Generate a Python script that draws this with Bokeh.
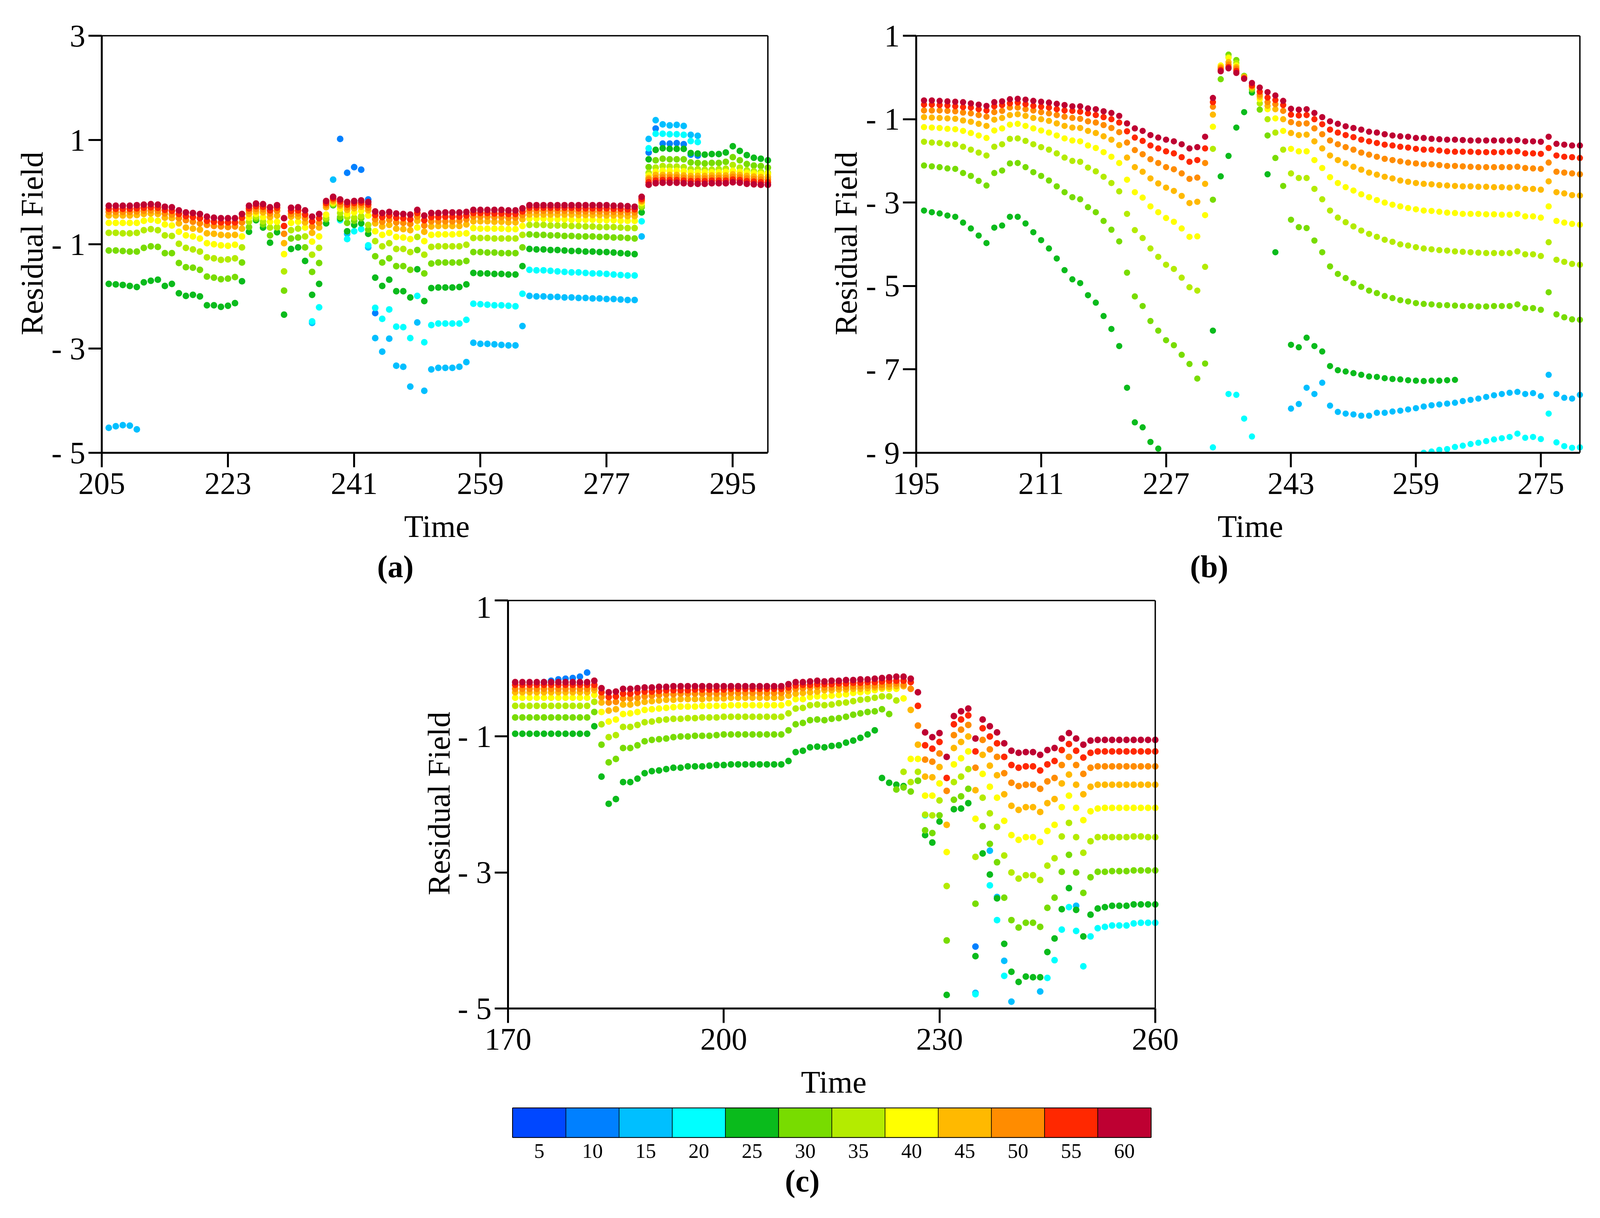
from bokeh.plotting import figure
from bokeh.layouts import column, row
from bokeh.models import Spacer, FixedTicker, Title, FactorRange, Range1d
from bokeh.embed import file_html
from bokeh.resources import INLINE

LEVELS = ["5", "10", "15", "20", "25", "30", "35", "40", "45", "50", "55", "60"]
COLORS = ["#0047FF", "#0080FF", "#00BFFF", "#00FFFF", "#0ABB1C", "#78DC00",
          "#B4EB00", "#FFFF00", "#FFB900", "#FF8C00", "#FF2800", "#BE0032"]

# ---------------- panel (a): time 206..300
a_t = list(range(206, 301))
a60 = [-0.26,-0.26,-0.26,-0.26,-0.25, -0.24,-0.23,-0.24,-0.28,-0.29, -0.35,-0.39,-0.40,-0.42,-0.47,
       -0.49,-0.50,-0.50,-0.50,-0.42, -0.26,-0.22,-0.23,-0.29,-0.25, -0.50,-0.30,-0.29,-0.35,-0.47,
       -0.42,-0.17,-0.09,-0.14,-0.19, -0.17,-0.16,-0.19,-0.37,-0.40, -0.38,-0.41,-0.42,-0.43,-0.34,
       -0.45,-0.40,-0.40,-0.39,-0.39, -0.39,-0.38,-0.34,-0.34,-0.34, -0.34,-0.34,-0.35,-0.35,-0.31,
       -0.25,-0.25,-0.25,-0.25,-0.25, -0.25,-0.25,-0.25,-0.25,-0.25, -0.25,-0.25,-0.26,-0.26,-0.27,
       -0.28,-0.09,0.14,0.17,0.18, 0.18,0.18,0.17,0.16,0.16, 0.16,0.17,0.17,0.17,0.19, 0.18,0.16,0.15,0.14,0.14]
a55 = [-0.32,-0.32,-0.32,-0.32,-0.31, -0.30,-0.29,-0.30,-0.34,-0.36, -0.42,-0.46,-0.48,-0.50,-0.55,
       -0.57,-0.58,-0.58,-0.58,-0.49, -0.31,-0.27,-0.28,-0.35,-0.30, -0.65,-0.36,-0.35,-0.43,-0.56,
       -0.50,-0.21,-0.12,-0.18,-0.24, -0.21,-0.20,-0.24,-0.44,-0.48, -0.45,-0.49,-0.50,-0.52,-0.40,
       -0.54,-0.48,-0.48,-0.47,-0.47, -0.47,-0.45,-0.40,-0.40,-0.40, -0.41,-0.41,-0.42,-0.42,-0.37,
       -0.30,-0.30,-0.30,-0.30,-0.30, -0.30,-0.30,-0.31,-0.31,-0.31, -0.31,-0.31,-0.32,-0.32,-0.33,
       -0.33,-0.13,0.19,0.22,0.23, 0.23,0.23,0.22,0.21,0.21, 0.21,0.22,0.22,0.22,0.24, 0.23,0.21,0.20,0.19,0.19]
a50 = [-0.38,-0.38,-0.38,-0.38,-0.37, -0.36,-0.35,-0.36,-0.41,-0.43, -0.50,-0.54,-0.57,-0.60,-0.63,
       -0.65,-0.66,-0.67,-0.66,-0.58, -0.36,-0.32,-0.33,-0.41,-0.36, -0.80,-0.42,-0.41,-0.50,-0.66,
       -0.59,-0.25,-0.15,-0.23,-0.29, -0.26,-0.24,-0.30,-0.52,-0.57, -0.53,-0.58,-0.59,-0.61,-0.47,
       -0.64,-0.56,-0.56,-0.56,-0.56, -0.55,-0.52,-0.47,-0.47,-0.47, -0.48,-0.48,-0.49,-0.49,-0.44,
       -0.36,-0.36,-0.36,-0.36,-0.36, -0.36,-0.36,-0.37,-0.37,-0.37, -0.37,-0.38,-0.38,-0.38,-0.39,
       -0.39,-0.16,0.24,0.27,0.28, 0.28,0.28,0.27,0.26,0.26, 0.26,0.27,0.27,0.27,0.29, 0.28,0.26,0.25,0.24,0.24]
a45 = [-0.45,-0.45,-0.45,-0.45,-0.44, -0.42,-0.41,-0.42,-0.49,-0.50, -0.60,-0.68,-0.70,-0.72,-0.79,
       -0.80,-0.82,-0.83,-0.82,-0.70, -0.42,-0.37,-0.39,-0.48,-0.45, -0.98,-0.47,-0.47,-0.58,-0.78,
       -0.68,-0.29,-0.18,-0.26,-0.34, -0.31,-0.28,-0.35,-0.60,-0.66, -0.63,-0.70,-0.71,-0.73,-0.55,
       -0.76,-0.66,-0.65,-0.65,-0.65, -0.65,-0.62,-0.56,-0.56,-0.56, -0.57,-0.57,-0.58,-0.58,-0.52,
       -0.43,-0.43,-0.43,-0.43,-0.43, -0.43,-0.43,-0.44,-0.44,-0.44, -0.44,-0.45,-0.45,-0.45,-0.46,
       -0.46,-0.18,0.27,0.33,0.33, 0.33,0.33,0.32,0.31,0.31, 0.31,0.32,0.32,0.32,0.34, 0.33,0.31,0.30,0.29,0.29]
a40 = [-0.59,-0.59,-0.59,-0.59,-0.59, -0.55,-0.53,-0.55,-0.62,-0.64, -0.76,-0.83,-0.85,-0.89,-0.98,
       -1.00,-1.02,-1.03,-1.01,-0.85, -0.49,-0.42,-0.48,-0.57,-0.57, -1.19,-0.59,-0.57,-0.68,-0.95,
       -0.85,-0.43,-0.20,-0.32,-0.42, -0.39,-0.36,-0.45,-0.75,-0.82, -0.78,-0.86,-0.87,-0.90,-0.68,
       -0.94,-0.82,-0.81,-0.81,-0.81, -0.80,-0.79,-0.69,-0.70,-0.70, -0.70,-0.70,-0.71,-0.71,-0.65,
       -0.51,-0.51,-0.51,-0.52,-0.52, -0.52,-0.53,-0.53,-0.53,-0.53, -0.54,-0.54,-0.54,-0.55,-0.55,
       -0.55,-0.21,0.32,0.39,0.41, 0.41,0.41,0.40,0.38,0.38, 0.38,0.38,0.38,0.39,0.41, 0.39,0.37,0.36,0.35,0.35]
a35 = [-0.78,-0.78,-0.79,-0.79,-0.78, -0.73,-0.71,-0.73,-0.83,-0.84, -0.99,-1.07,-1.10,-1.14,-1.25,
       -1.27,-1.30,-1.29,-1.27,-1.06, -0.57,-0.47,-0.56,-0.68,-0.67, -1.52,-0.73,-0.70,-0.85,-1.20,
       -1.07,-0.49,-0.22,-0.40,-0.48, -0.49,-0.46,-0.63,-0.94,-1.04, -0.98,-1.09,-1.09,-1.15,-0.86,
       -1.20,-1.05,-1.04,-1.04,-1.04, -1.04,-1.01,-0.88,-0.88,-0.88, -0.89,-0.89,-0.89,-0.89,-0.82,
       -0.63,-0.63,-0.63,-0.64,-0.64, -0.64,-0.65,-0.65,-0.66,-0.66, -0.67,-0.67,-0.67,-0.68,-0.69,
       -0.69,-0.26,0.37,0.47,0.50, 0.49,0.49,0.48,0.44,0.44, 0.43,0.43,0.44,0.45,0.52, 0.47,0.42,0.40,0.39,0.37]
a30 = [-1.12,-1.12,-1.13,-1.14,-1.14, -1.07,-1.04,-1.05,-1.17,-1.17, -1.36,-1.44,-1.45,-1.49,-1.62,
       -1.64,-1.67,-1.66,-1.63,-1.35, -0.67,-0.51,-0.62,-0.83,-0.68, -1.89,-0.89,-0.87,-1.06,-1.53,
       -1.36,-0.52,-0.24,-0.48,-0.59, -0.55,-0.50,-0.72,-1.23,-1.35, -1.27,-1.42,-1.42,-1.49,-1.11,
       -1.56,-1.37,-1.35,-1.35,-1.35, -1.35,-1.32,-1.15,-1.15,-1.16, -1.16,-1.17,-1.17,-1.17,-1.06,
       -0.81,-0.82,-0.82,-0.83,-0.83, -0.84,-0.84,-0.85,-0.85,-0.85, -0.86,-0.86,-0.87,-0.87,-0.88,
       -0.89,-0.29,0.48,0.61,0.64, 0.63,0.63,0.63,0.57,0.56, 0.55,0.56,0.56,0.58,0.67, 0.61,0.54,0.51,0.50,0.47]
a25 = [-1.76,-1.77,-1.78,-1.80,-1.82, -1.73,-1.70,-1.68,-1.80,-1.76, -1.94,-1.99,-1.97,-2.00,-2.17,
       -2.17,-2.20,-2.18,-2.13,-1.71, -0.76,-0.54,-0.68,-0.97,-0.77, -2.35,-1.09,-1.06,-1.32,-1.97,
       -1.76,-0.60,-0.25,-0.51,-0.75, -0.63,-0.60,-0.80,-1.64,-1.80, -1.68,-1.90,-1.90,-2.02,-1.48,
       -2.09,-1.84,-1.83,-1.83,-1.83, -1.82,-1.77,-1.55,-1.56,-1.56, -1.57,-1.57,-1.58,-1.58,-1.42,
       -1.09,-1.10,-1.10,-1.11,-1.11, -1.12,-1.13,-1.13,-1.14,-1.14, -1.15,-1.15,-1.16,-1.17,-1.18,
       -1.19,-0.39,0.63,0.81,0.84, 0.83,0.83,0.83,0.75,0.74, 0.72,0.73,0.73,0.76,0.88, 0.79,0.71,0.66,0.64,0.61]
a20_t = [235,236,239,240,241,242,243,244,245,246,247,248,249,250,251,252,253,254,255,256,257,
         258,259,260,261,262,263,264,265,266,267,268,269,270,271,272,273,274,275,276,277,278,279,280,281,
         282,283,284,285,286,287,288,289,290]
a20 = [-2.48,-2.21,-0.54,-0.90,-0.75,-0.71,-1.02,-2.22,-2.43,-2.25,-2.58,-2.59,-2.80,-1.99,-2.88,-2.55,-2.52,-2.52,-2.52,-2.52,-2.45,
       -2.14,-2.15,-2.16,-2.17,-2.17,-2.18,-2.19,-1.95,-1.49,-1.50,-1.50,-1.51,-1.52,-1.53,-1.54,-1.54,-1.55,-1.56,-1.56,-1.57,-1.58,-1.59,-1.60,-1.60,
       -0.56,0.84,1.12,1.12,1.11,1.11,1.10,0.98,0.96]
a15_t = [206,207,208,209,210,235,238,240,243,244,245,246,247,248,249,250,251,252,253,254,255,256,257,
         258,259,260,261,262,263,264,265,266,267,268,269,270,271,272,273,274,275,276,277,278,279,280,281,
         282,283,284,285,286,287,288,289,290]
a15 = [-4.52,-4.49,-4.47,-4.48,-4.55,-2.51,0.24,-0.80,-1.06,-2.80,-3.06,-2.81,-3.33,-3.35,-3.73,-2.50,-3.81,-3.40,-3.37,-3.37,-3.37,-3.35,-3.26,
       -2.89,-2.91,-2.91,-2.92,-2.93,-2.94,-2.94,-2.57,-1.99,-2.00,-2.00,-2.01,-2.01,-2.02,-2.02,-2.03,-2.03,-2.04,-2.04,-2.05,-2.05,-2.06,-2.07,-2.07,
       -0.85,1.02,1.38,1.30,1.28,1.29,1.27,1.10,1.08]
a10_t = [239,240,241,242,243,244,283,284,285,286,287,288,289,290]
a10 = [1.02,0.37,0.48,0.43,-0.14,-2.32,0.76,1.22,0.93,0.93,0.94,0.92,0.72,0.70]

# ---------------- panel (b): time 196..280
b_t = list(range(196, 281))
b60 = [-0.55,-0.55,-0.56,-0.57,-0.58, -0.59,-0.62,-0.65,-0.68,-0.59, -0.57,-0.52,-0.51,-0.53,-0.56,
       -0.58,-0.60,-0.63,-0.66,-0.69, -0.69,-0.74,-0.76,-0.81,-0.85, -0.92,-1.10,-1.22,-1.28,-1.38,
       -1.44,-1.49,-1.53,-1.60,-1.70, -1.67,-1.42,-0.49,0.15,0.22, 0.11,-0.03,-0.13,-0.24,-0.35,
       -0.43,-0.56,-0.75,-0.77,-0.76, -0.85,-0.95,-1.05,-1.11,-1.17, -1.21,-1.25,-1.30,-1.32,-1.36,
       -1.39,-1.41,-1.42,-1.45,-1.45, -1.47,-1.48,-1.49,-1.49,-1.50, -1.51,-1.51,-1.51,-1.51,-1.51,
       -1.51,-1.50,-1.53,-1.53,-1.54, -1.42,-1.59,-1.61,-1.63,-1.63]
b55 = [-0.65,-0.65,-0.66,-0.67,-0.69, -0.71,-0.72,-0.76,-0.79,-0.69, -0.66,-0.62,-0.60,-0.64,-0.68,
       -0.70,-0.72,-0.76,-0.79,-0.80, -0.82,-0.86,-0.90,-0.95,-1.00, -1.08,-1.29,-1.44,-1.52,-1.63,
       -1.70,-1.77,-1.82,-1.91,-2.02, -1.98,-1.70,-0.59,0.18,0.25, 0.16,-0.02,-0.19,-0.34,-0.48,
       -0.54,-0.66,-0.89,-0.91,-0.90, -1.00,-1.12,-1.25,-1.32,-1.38, -1.43,-1.49,-1.53,-1.57,-1.61,
       -1.63,-1.66,-1.68,-1.71,-1.73, -1.73,-1.75,-1.77,-1.78,-1.78, -1.78,-1.79,-1.79,-1.79,-1.79,
       -1.78,-1.77,-1.82,-1.82,-1.83, -1.69,-1.87,-1.90,-1.91,-1.93]
b50 = [-0.79,-0.79,-0.79,-0.80,-0.81, -0.84,-0.86,-0.90,-0.94,-0.83, -0.80,-0.72,-0.72,-0.76,-0.79,
       -0.83,-0.86,-0.90,-0.94,-0.97, -0.99,-1.05,-1.08,-1.14,-1.21, -1.31,-1.56,-1.74,-1.84,-1.96,
       -2.05,-2.15,-2.20,-2.30,-2.43, -2.40,-2.05,-0.70,0.22,0.31, 0.21,0.00,-0.21,-0.41,-0.59,
       -0.64,-0.80,-1.07,-1.11,-1.10, -1.22,-1.36,-1.51,-1.60,-1.67, -1.73,-1.80,-1.85,-1.90,-1.95,
       -1.98,-2.01,-2.04,-2.06,-2.08, -2.08,-2.10,-2.12,-2.12,-2.13, -2.14,-2.15,-2.15,-2.15,-2.15,
       -2.15,-2.14,-2.17,-2.18,-2.19, -2.04,-2.26,-2.28,-2.30,-2.32]
b45 = [-0.95,-0.96,-0.97,-0.98,-0.99, -1.03,-1.06,-1.11,-1.16,-1.01, -0.97,-0.90,-0.88,-0.92,-0.97,
       -1.00,-1.04,-1.10,-1.16,-1.20, -1.21,-1.28,-1.33,-1.41,-1.49, -1.62,-1.92,-2.15,-2.26,-2.42,
       -2.54,-2.64,-2.72,-2.84,-3.01, -2.98,-2.55,-0.89,0.25,0.37, 0.25,0.02,-0.23,-0.46,-0.68,
       -0.76,-1.00,-1.33,-1.38,-1.37, -1.53,-1.70,-1.87,-1.98,-2.06, -2.14,-2.21,-2.28,-2.33,-2.38,
       -2.42,-2.47,-2.50,-2.53,-2.55, -2.56,-2.58,-2.59,-2.60,-2.61, -2.61,-2.62,-2.62,-2.63,-2.63,
       -2.64,-2.62,-2.67,-2.67,-2.69, -2.49,-2.75,-2.78,-2.82,-2.83]
b40 = [-1.19,-1.20,-1.21,-1.23,-1.24, -1.28,-1.33,-1.39,-1.45,-1.27, -1.22,-1.13,-1.11,-1.16,-1.22,
       -1.27,-1.32,-1.39,-1.46,-1.51, -1.53,-1.63,-1.69,-1.79,-1.90, -2.05,-2.45,-2.75,-2.88,-3.09,
       -3.23,-3.37,-3.46,-3.62,-3.82, -3.81,-3.30,-1.18,0.29,0.47, 0.29,0.00,-0.23,-0.52,-0.76,
       -0.98,-1.28,-1.71,-1.77,-1.77, -1.98,-2.17,-2.39,-2.53,-2.63, -2.71,-2.80,-2.87,-2.94,-3.00,
       -3.05,-3.09,-3.13,-3.16,-3.19, -3.20,-3.22,-3.24,-3.25,-3.27, -3.27,-3.27,-3.28,-3.28,-3.29,
       -3.29,-3.27,-3.33,-3.33,-3.36, -3.09,-3.44,-3.48,-3.51,-3.53]
b35 = [-1.54,-1.56,-1.57,-1.60,-1.60, -1.66,-1.73,-1.80,-1.87,-1.66, -1.60,-1.47,-1.46,-1.52,-1.60,
       -1.67,-1.73,-1.82,-1.92,-2.00, -2.02,-2.16,-2.25,-2.38,-2.53, -2.73,-3.27,-3.66,-3.85,-4.10,
       -4.30,-4.49,-4.59,-4.80,-5.03, -5.11,-4.54,-1.71,0.25,0.49, 0.35,0.01,-0.25,-0.62,-1.00,
       -1.32,-1.73,-2.30,-2.41,-2.41, -2.67,-2.92,-3.19,-3.36,-3.47, -3.57,-3.67,-3.75,-3.82,-3.89,
       -3.94,-4.00,-4.03,-4.07,-4.10, -4.12,-4.14,-4.15,-4.17,-4.18, -4.19,-4.20,-4.21,-4.21,-4.21,
       -4.21,-4.17,-4.24,-4.24,-4.28, -3.95,-4.37,-4.42,-4.47,-4.49]
b30 = [-2.11,-2.13,-2.15,-2.18,-2.19, -2.29,-2.36,-2.48,-2.59,-2.29, -2.23,-2.06,-2.05,-2.15,-2.27,
       -2.36,-2.47,-2.61,-2.75,-2.87, -2.92,-3.11,-3.23,-3.44,-3.65, -3.93,-4.68,-5.25,-5.48,-5.84,
       -6.07,-6.30,-6.42,-6.65,-6.87, -7.22,-6.86,-2.93,-0.04,0.55, 0.42,0.04,-0.29,-0.77,-1.39,
       -1.93,-2.60,-3.41,-3.59,-3.61, -3.91,-4.19,-4.53,-4.71,-4.81, -4.93,-5.02,-5.11,-5.17,-5.24,
       -5.29,-5.34,-5.37,-5.41,-5.43, -5.44,-5.46,-5.46,-5.47,-5.48, -5.48,-5.49,-5.49,-5.48,-5.48,
       -5.48,-5.44,-5.53,-5.53,-5.57, -5.15,-5.68,-5.75,-5.80,-5.81]
b25_t = [196,197,198,199,200,201,202,203,204,205,206,207,208,209,210,211,212,213,214,215,216,217,218,219,220,221,222,223,224,225,226,
         233,234,235,236,237,238,240,241,243,244,245,246,247,248,249,250,251,252,253,254,255,256,257,258,259,260,261,262,263,264]
b25 = [-3.19,-3.23,-3.26,-3.31,-3.34,-3.48,-3.62,-3.79,-3.97,-3.60,-3.55,-3.34,-3.34,-3.50,-3.71,-3.90,-4.10,-4.34,-4.62,-4.84,-4.93,-5.22,-5.40,-5.72,-6.03,-6.44,-7.44,-8.27,-8.39,-8.74,-8.90,
       -6.07,-2.37,-1.88,-1.20,-0.83,-0.36,-2.32,-4.19,-6.41,-6.47,-6.24,-6.44,-6.57,-6.92,-7.02,-7.05,-7.09,-7.13,-7.17,-7.18,-7.21,-7.23,-7.24,-7.26,-7.27,-7.28,-7.27,-7.27,-7.26,-7.25]
b20_t = [233,235,236,237,238,260,261,262,263,264,265,266,267,268,269,270,271,272,273,274,275,276,277,278,279,280]
b20 = [-8.87,-7.59,-7.61,-8.18,-8.61,-9.00,-8.97,-8.93,-8.91,-8.86,-8.83,-8.79,-8.76,-8.72,-8.68,-8.65,-8.62,-8.54,-8.64,-8.62,-8.67,-8.06,-8.75,-8.84,-8.88,-8.87]
b15_t = list(range(243, 281))
b15 = [-7.94,-7.83,-7.44,-7.59,-7.32,-7.87,-8.02,-8.06,-8.08,-8.11,-8.11,-8.04,-8.04,-8.01,-7.99,-7.96,-7.93,-7.89,-7.86,-7.84,-7.82,-7.80,-7.76,-7.73,-7.70,-7.66,-7.62,-7.59,-7.56,-7.54,-7.59,-7.57,-7.64,-7.13,-7.59,-7.68,-7.70,-7.61]

# ---------------- panel (c): time 171..260
c_t = list(range(171, 261))
c60 = [-0.20,-0.20,-0.20,-0.20,-0.20, -0.20,-0.20,-0.20,-0.20,-0.20, -0.20,-0.18,-0.29,-0.35,-0.34,
       -0.30,-0.30,-0.29,-0.28,-0.28, -0.27,-0.27,-0.26,-0.26,-0.26, -0.26,-0.26,-0.26,-0.26,-0.26,
       -0.26,-0.26,-0.26,-0.26,-0.26, -0.26,-0.26,-0.26,-0.23,-0.20, -0.20,-0.19,-0.18,-0.19,-0.18,
       -0.18,-0.17,-0.17,-0.16,-0.16, -0.15,-0.14,-0.13,-0.12,-0.12, -0.15,-0.35,-0.94,-1.01,-0.95,
       -1.30,-0.70,-0.63,-0.59,-1.03, -0.75,-0.85,-0.94,-1.10,-1.21, -1.24,-1.23,-1.23,-1.27,-1.20,
       -1.17,-1.03,-0.95,-1.03,-1.12, -1.06,-1.05,-1.05,-1.05,-1.05, -1.05,-1.05,-1.05,-1.05,-1.05]
c55 = [-0.24,-0.24,-0.24,-0.24,-0.24, -0.24,-0.24,-0.24,-0.24,-0.24, -0.24,-0.24,-0.35,-0.42,-0.41,
       -0.37,-0.37,-0.35,-0.34,-0.34, -0.33,-0.32,-0.32,-0.32,-0.32, -0.31,-0.31,-0.31,-0.31,-0.31,
       -0.30,-0.30,-0.30,-0.30,-0.30, -0.30,-0.30,-0.30,-0.28,-0.25, -0.24,-0.24,-0.23,-0.23,-0.23,
       -0.22,-0.22,-0.21,-0.21,-0.20, -0.20,-0.19,-0.18,-0.18,-0.18, -0.20,-0.55,-1.13,-1.18,-1.08,
       -1.61,-0.82,-0.75,-0.69,-1.22, -0.88,-1.00,-1.10,-1.30,-1.42, -1.46,-1.44,-1.44,-1.50,-1.41,
       -1.36,-1.20,-1.11,-1.21,-1.31, -1.24,-1.22,-1.22,-1.22,-1.22, -1.22,-1.22,-1.22,-1.22,-1.22]
c50 = [-0.30,-0.30,-0.30,-0.30,-0.30, -0.30,-0.30,-0.30,-0.30,-0.30, -0.30,-0.28,-0.42,-0.50,-0.49,
       -0.44,-0.44,-0.43,-0.41,-0.40, -0.39,-0.38,-0.38,-0.37,-0.37, -0.37,-0.37,-0.37,-0.37,-0.37,
       -0.36,-0.36,-0.36,-0.36,-0.36, -0.36,-0.36,-0.36,-0.33,-0.30, -0.29,-0.28,-0.27,-0.28,-0.28,
       -0.27,-0.27,-0.26,-0.26,-0.25, -0.25,-0.24,-0.23,-0.22,-0.24, -0.30,-0.84,-1.34,-1.37,-1.25,
       -1.80,-0.98,-0.90,-0.83,-1.46, -1.05,-1.19,-1.30,-1.54,-1.68, -1.73,-1.71,-1.71,-1.77,-1.66,
       -1.61,-1.42,-1.30,-1.42,-1.55, -1.46,-1.44,-1.44,-1.44,-1.44, -1.44,-1.44,-1.44,-1.44,-1.44]
c45 = [-0.35,-0.35,-0.35,-0.35,-0.35, -0.35,-0.35,-0.35,-0.35,-0.35, -0.35,-0.32,-0.50,-0.62,-0.60,
       -0.53,-0.53,-0.51,-0.49,-0.48, -0.47,-0.46,-0.46,-0.45,-0.45, -0.45,-0.45,-0.44,-0.44,-0.44,
       -0.43,-0.43,-0.43,-0.43,-0.43, -0.43,-0.43,-0.43,-0.40,-0.37, -0.36,-0.35,-0.34,-0.32,-0.32,
       -0.31,-0.31,-0.30,-0.30,-0.29, -0.28,-0.28,-0.27,-0.26,-0.26, -0.61,-1.12,-1.59,-1.60,-1.45,
       -2.30,-1.17,-1.08,-1.00,-1.79, -1.27,-1.43,-1.57,-1.85,-2.02, -2.08,-2.04,-2.04,-2.11,-1.98,
       -1.92,-1.69,-1.56,-1.71,-1.85, -1.74,-1.71,-1.71,-1.71,-1.71, -1.71,-1.71,-1.71,-1.71,-1.71]
c40 = [-0.43,-0.43,-0.43,-0.43,-0.43, -0.43,-0.43,-0.43,-0.43,-0.43, -0.43,-0.39,-0.64,-0.78,-0.75,
       -0.67,-0.66,-0.64,-0.61,-0.60, -0.59,-0.58,-0.57,-0.56,-0.56, -0.56,-0.55,-0.55,-0.55,-0.55,
       -0.54,-0.54,-0.54,-0.54,-0.54, -0.54,-0.54,-0.54,-0.51,-0.45, -0.45,-0.42,-0.41,-0.41,-0.40,
       -0.39,-0.38,-0.36,-0.35,-0.34, -0.32,-0.30,-0.30,-0.30,-0.44, -1.33,-1.33,-1.87,-1.87,-1.69,
       -2.70,-1.41,-1.32,-1.22,-2.21, -1.55,-1.74,-1.90,-2.24,-2.45, -2.52,-2.48,-2.48,-2.55,-2.39,
       -2.30,-2.04,-1.87,-2.05,-2.23, -2.10,-2.06,-2.05,-2.05,-2.05, -2.05,-2.05,-2.05,-2.05,-2.05]
c35 = [-0.55,-0.55,-0.55,-0.55,-0.55, -0.55,-0.55,-0.55,-0.55,-0.55, -0.55,-0.49,-0.82,-1.01,-0.98,
       -0.86,-0.86,-0.83,-0.79,-0.78, -0.76,-0.75,-0.74,-0.74,-0.73, -0.73,-0.72,-0.72,-0.72,-0.71,
       -0.71,-0.71,-0.71,-0.71,-0.71, -0.71,-0.71,-0.71,-0.66,-0.59, -0.58,-0.54,-0.53,-0.54,-0.53,
       -0.51,-0.50,-0.48,-0.46,-0.45, -0.43,-0.41,-0.41,-0.47,-1.52, -1.67,-1.52,-2.15,-2.16,-1.94,
       -3.20,-1.67,-1.59,-1.48,-2.77, -1.90,-2.13,-2.33,-2.75,-3.00, -3.09,-3.04,-3.04,-3.11,-2.90,
       -2.79,-2.47,-2.27,-2.48,-2.71, -2.54,-2.48,-2.48,-2.48,-2.48, -2.48,-2.47,-2.47,-2.48,-2.48]
c30 = [-0.72,-0.72,-0.72,-0.72,-0.72, -0.72,-0.72,-0.72,-0.72,-0.72, -0.72,-0.64,-1.12,-1.38,-1.33,
       -1.17,-1.17,-1.13,-1.07,-1.05, -1.04,-1.03,-1.01,-1.00,-1.00, -0.99,-0.99,-0.99,-0.98,-0.97,
       -0.97,-0.97,-0.97,-0.97,-0.97, -0.97,-0.97,-0.97,-0.91,-0.82, -0.80,-0.76,-0.75,-0.76,-0.74,
       -0.73,-0.71,-0.68,-0.66,-0.64, -0.63,-0.60,-0.67,-1.78,-1.75, -1.81,-1.65,-2.38,-2.42,-2.16,
       -4.00,-1.93,-1.88,-1.77,-3.46, -2.32,-2.58,-2.85,-3.37,-3.70, -3.81,-3.74,-3.74,-3.80,-3.52,
       -3.37,-2.99,-2.74,-3.00,-3.30, -3.07,-2.99,-2.99,-2.98,-2.98, -2.98,-2.97,-2.97,-2.97,-2.97]
c25_t = [t for t in c_t if t != 226]
c25 = [-0.96,-0.96,-0.96,-0.96,-0.96, -0.96,-0.96,-0.96,-0.96,-0.96, -0.96,-0.85,-1.59,-1.99,-1.92,
       -1.67,-1.67,-1.62,-1.54,-1.51, -1.50,-1.48,-1.46,-1.46,-1.44, -1.44,-1.44,-1.43,-1.42,-1.42,
       -1.41,-1.41,-1.41,-1.41,-1.41, -1.41,-1.41,-1.41,-1.36,-1.23, -1.21,-1.16,-1.15,-1.16,-1.14,
       -1.13,-1.09,-1.06,-1.02,-0.97, -0.91,-1.61,-1.68,-1.71,-1.73, -1.65,-2.45,-2.56,-2.25,
       -4.80,-2.07,-2.06,-1.98,-4.23, -2.72,-3.03,-3.38,-4.05,-4.46, -4.61,-4.53,-4.54,-4.54,-4.17,
       -3.97,-3.54,-3.23,-3.55,-3.94, -3.62,-3.53,-3.51,-3.49,-3.49, -3.49,-3.47,-3.47,-3.47,-3.47]
c20_t = [228,235,237,238,239,245,246,247,248,249,250,251,252,253,254,255,256,257,258,259,260]
c20 = [-2.16,-4.79,-3.19,-3.70,-4.52,-4.55,-4.29,-3.84,-3.51,-3.86,-4.38,-3.94,-3.82,-3.80,-3.78,-3.78,-3.78,-3.75,-3.74,-3.74,-3.74]
c15_t = [235,237,238,239,240,244,249]
c15 = [-4.77,-2.68,-3.36,-4.30,-4.90,-4.75,-3.49]
c10_t = [175,176,177,178,179,180,181,235]
c10 = [-0.20,-0.18,-0.16,-0.15,-0.14,-0.12,-0.06,-4.09]

A_XT = [205, 223, 241, 259, 277, 295]
A_YT = [-5, -3, -1, 1, 3]
B_XT = [195, 211, 227, 243, 259, 275]
B_YT = [-9, -7, -5, -3, -1, 1]
C_XT = [170, 200, 230, 260]
C_YT = [-5, -3, -1, 1]

A_SERIES = [("10", a10_t, a10), ("15", a15_t, a15), ("20", a20_t, a20), ("25", a_t, a25), ("30", a_t, a30),
            ("35", a_t, a35), ("40", a_t, a40), ("45", a_t, a45), ("50", a_t, a50), ("55", a_t, a55), ("60", a_t, a60)]
B_SERIES = [("15", b15_t, b15), ("20", b20_t, b20), ("25", b25_t, b25), ("30", b_t, b30),
            ("35", b_t, b35), ("40", b_t, b40), ("45", b_t, b45), ("50", b_t, b50), ("55", b_t, b55), ("60", b_t, b60)]
C_SERIES = [("10", c10_t, c10), ("15", c15_t, c15), ("20", c20_t, c20), ("25", c25_t, c25), ("30", c_t, c30),
            ("35", c_t, c35), ("40", c_t, c40), ("45", c_t, c45), ("50", c_t, c50), ("55", c_t, c55), ("60", c_t, c60)]

SERIF = "Liberation Serif"
COLOR_OF = dict(zip(LEVELS, COLORS))


def tick_text(v):
    return f"- {abs(v)}" if v < 0 else str(v)


def panel(series, xr, yr, xt, yt, size, w, h, bl, br, bt, bb, ypad, xpad, ylab_standoff):
    p = figure(width=w, height=h, output_backend="svg", toolbar_location=None,
               x_range=Range1d(xr[0], xr[1] + xpad), y_range=Range1d(yr[0], yr[1] + ypad),
               min_border_left=bl, min_border_right=br, min_border_top=bt, min_border_bottom=bb,
               outline_line_color=None, background_fill_color="white", border_fill_color="white")
    p.grid.visible = False
    for key, xs, ys in series:
        assert len(xs) == len(ys), (key, len(xs), len(ys))
        p.scatter(xs, ys, size=size, fill_color=COLOR_OF[key], line_color=None)
    # frame's top and right edges
    p.line([xr[0], xr[1]], [yr[1], yr[1]], line_color="black", line_width=3.5)
    p.line([xr[1], xr[1]], [yr[0], yr[1]], line_color="black", line_width=3.5)
    for ax, ticks, bounds in ((p.xaxis[0], xt, xr), (p.yaxis[0], yt, yr)):
        ax.ticker = FixedTicker(ticks=ticks)
        ax.bounds = bounds
        ax.axis_line_width = 5
        ax.major_tick_line_width = 5
        ax.major_tick_in = 0
        ax.minor_tick_out = 0
        ax.minor_tick_in = 0
        ax.major_label_text_font = SERIF
        ax.major_label_text_font_size = "80px"
        ax.major_label_text_color = "black"
        ax.axis_label_text_font = SERIF
        ax.axis_label_text_font_size = "81px"
        ax.axis_label_text_font_style = "normal"
        ax.axis_label_text_color = "black"
        ax.major_label_overrides = {v: tick_text(v) for v in ticks}
    p.xaxis[0].major_tick_out = 37
    p.yaxis[0].major_tick_out = 34
    p.xaxis[0].axis_label = "Time"
    p.yaxis[0].axis_label = "Residual Field"
    p.xaxis[0].major_label_standoff = 15
    p.yaxis[0].major_label_standoff = 8
    p.xaxis[0].axis_label_standoff = 35
    p.yaxis[0].axis_label_standoff = ylab_standoff
    return p


def caption(p, text, offset, standoff):
    t = Title(text=text, align="left", offset=offset, standoff=standoff, text_font=SERIF,
              text_font_size="80px", text_font_style="bold", text_color="black")
    p.add_layout(t, "below")


pa = panel(A_SERIES, (205, 300), (-5, 3), A_XT, A_YT, 17, 2100, 1510, 260, 124, 84, 351, 0.03, 0.6, 2)
caption(pa, "(a)", 705, 19)
pb = panel(B_SERIES, (195, 280), (-9, 1), B_XT, B_YT, 16, 1982, 1510, 245, 26, 87, 348, 0.04, 0.6, 3)
caption(pb, "(b)", 701, 19)
pc = panel(C_SERIES, (170, 260), (-5, 1), C_XT, C_YT, 17, 2180, 1312, 280, 232, 22, 240, 0.03, 0.6, 0)

pd = figure(width=2150, height=285, output_backend="svg", toolbar_location=None,
            x_range=FactorRange(factors=LEVELS, range_padding=0), y_range=Range1d(0, 1),
            min_border_left=262, min_border_right=254, min_border_top=15, min_border_bottom=195,
            outline_line_color="black", outline_line_width=3)
pd.grid.visible = False
pd.yaxis.visible = False
pd.vbar(x=LEVELS, top=1, bottom=0, width=1, fill_color=COLORS, line_color="black", line_width=1.5)
pd.xaxis.axis_line_color = None
pd.xaxis.major_tick_line_color = None
pd.xaxis.major_tick_out = 0
pd.xaxis.major_label_standoff = 17
pd.xaxis.major_label_text_font = SERIF
pd.xaxis.major_label_text_font_size = "53px"
pd.xaxis.major_label_text_color = "black"
caption(pd, "(c)", 697, 21)

layout = column(row(pa, pb), row(Spacer(width=1020, height=10), pc), row(Spacer(width=1050, height=10), pd))
open("out.html", "w").write(file_html(layout, INLINE))
